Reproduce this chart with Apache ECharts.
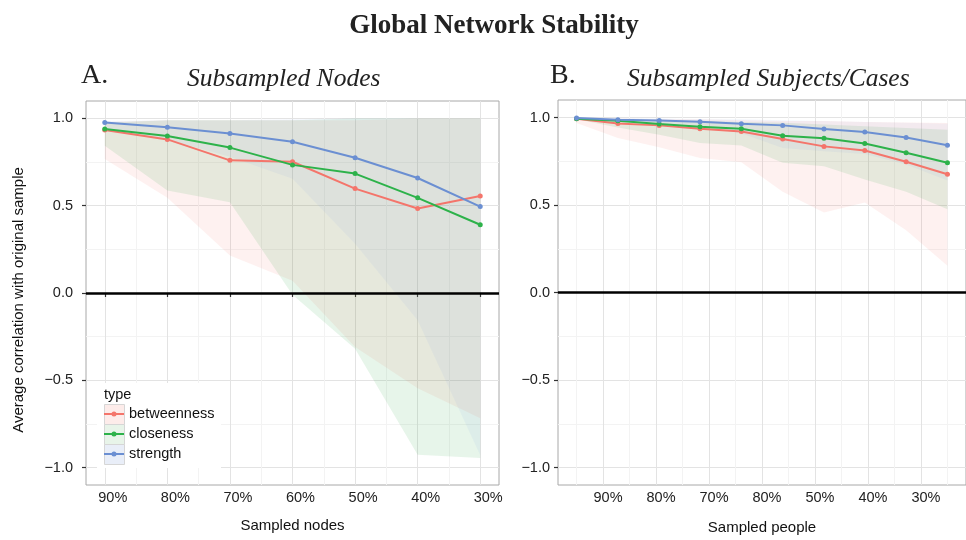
<!DOCTYPE html>
<html>
<head>
<meta charset="utf-8">
<script src="https://cdn.jsdelivr.net/npm/echarts@6/dist/echarts.min.js"></script>
<style>
  html, body { margin: 0; padding: 0; background: #fff; }
  #chart { width: 966px; height: 540px; }
</style>
</head>
<body>
<div id="chart"></div>
<script>
// 数据
const types = ['betweenness', 'closeness', 'strength'];

// A. Subsampled Nodes
const nodesX = [90, 80, 70, 60, 50, 40, 30];
const nodesBetweenness = [0.934, 0.880, 0.760, 0.752, 0.598, 0.484, 0.556];
const nodesCloseness = [0.939, 0.899, 0.833, 0.734, 0.684, 0.545, 0.391];
const nodesStrength = [0.977, 0.949, 0.914, 0.867, 0.775, 0.659, 0.495];
const nodesBetweennessLow = [0.768, 0.545, 0.215, 0.070, -0.310, -0.546, -0.718];
const nodesBetweennessHigh = [0.980, 0.990, 0.990, 0.990, 0.990, 1.000, 1.000];
const nodesClosenessLow = [0.844, 0.587, 0.520, -0.010, -0.320, -0.927, -0.946];
const nodesClosenessHigh = [0.975, 0.990, 0.990, 0.990, 1.000, 1.000, 1.000];
const nodesStrengthLow = [0.930, 0.880, 0.780, 0.654, 0.282, -0.156, -0.930];
const nodesStrengthHigh = [0.985, 0.990, 0.990, 0.995, 1.000, 1.000, 1.000];

// B. Subsampled Subjects/Cases
const peopleX = [95, 87.2, 79.4, 71.7, 63.9, 56.1, 48.3, 40.6, 32.8, 25];
const peopleBetweenness = [0.993, 0.966, 0.955, 0.936, 0.920, 0.877, 0.835, 0.811, 0.747, 0.676];
const peopleCloseness = [0.993, 0.981, 0.963, 0.947, 0.936, 0.896, 0.881, 0.851, 0.799, 0.741];
const peopleStrength = [0.997, 0.987, 0.983, 0.976, 0.964, 0.955, 0.934, 0.917, 0.886, 0.841];
const peopleBetweennessLow = [0.968, 0.883, 0.830, 0.769, 0.744, 0.576, 0.457, 0.514, 0.356, 0.153];
const peopleBetweennessHigh = [0.998, 0.995, 0.990, 0.990, 0.985, 0.980, 0.980, 0.975, 0.972, 0.968];
const peopleClosenessLow = [0.990, 0.943, 0.902, 0.855, 0.840, 0.741, 0.722, 0.646, 0.576, 0.476];
const peopleClosenessHigh = [0.998, 0.990, 0.985, 0.980, 0.975, 0.970, 0.960, 0.950, 0.940, 0.930];
const peopleStrengthLow = [0.990, 0.975, 0.958, 0.950, 0.910, 0.826, 0.807, 0.792, 0.731, 0.640];
const peopleStrengthHigh = [0.999, 0.997, 0.995, 0.990, 0.990, 0.985, 0.980, 0.975, 0.970, 0.965];

// 刻度
const nodesTicks = [90, 80, 70, 60, 50, 40, 30];
const nodesTickLabels = ['90%', '80%', '70%', '60%', '50%', '40%', '30%'];
const nodesMinor = [85, 75, 65, 55, 45, 35];
const peopleTicks = [90, 80, 70, 60, 50, 40, 30];
const peopleTickLabels = ['90%', '80%', '70%', '80%', '50%', '40%', '30%'];
const peopleMinor = [95, 85, 75, 65, 55, 45, 35, 25];
const yTicks = [-1, -0.5, 0, 0.5, 1];
const yMinor = [-0.75, -0.25, 0.25, 0.75];

// 颜色
const lineColors = ['#f4756b', '#2db24a', '#6b8fd2'];
const bandColors = ['rgba(248,118,109,0.1)', 'rgba(40,160,60,0.11)', 'rgba(110,150,230,0.08)'];
const keyFills = ['#fdecea', '#e8f4e9', '#e9eef8'];

const sans = 'Liberation Sans, Arial, sans-serif';
const serif = 'Liberation Serif, Times New Roman, serif';
const keyIcon = 'path://M0,9L20,9L20,11L0,11Z M12.5,10A2.5,2.5,0,1,1,7.5,10A2.5,2.5,0,1,1,12.5,10Z';

function xAxisPair(gridIndex, min, max, ticks, labels, minor, name, nameGap, shift, showTick) {
  return [{
    type: 'value', gridIndex, min, max, inverse: true,
    axisLine: { show: false },
    axisTick: { show: showTick, length: 4, lineStyle: { color: '#333', width: 1.2 }, customValues: ticks },
    axisLabel: {
      customValues: ticks,
      formatter: v => labels[ticks.indexOf(v)],
      fontFamily: sans, fontSize: 14.5, color: '#222', margin: 5, lineHeight: 15,
      padding: [0, 0, 0, shift * 2]
    },
    splitLine: { show: true, customValues: ticks, lineStyle: { color: '#e3e3e3', width: 1 } },
    name, nameLocation: 'middle', nameGap,
    nameTextStyle: { fontFamily: sans, fontSize: 15, color: '#111', lineHeight: 15 }
  }, {
    type: 'value', gridIndex, min, max, inverse: true,
    axisLine: { show: false },
    axisTick: { show: false, customValues: minor },
    axisLabel: { show: false, customValues: minor },
    splitLine: { show: true, customValues: minor, lineStyle: { color: '#f3f3f3', width: 1 } }
  }];
}

function yAxisPair(gridIndex, margin, name, nameGap) {
  return [{
    type: 'value', gridIndex, min: -1.1, max: 1.1,
    axisLine: { show: false },
    axisTick: { show: true, length: 4, lineStyle: { color: '#333', width: 1.2 }, customValues: yTicks },
    axisLabel: {
      customValues: yTicks,
      formatter: v => v.toFixed(1).replace('-', '\u2212'),
      fontFamily: sans, fontSize: 14.5, color: '#222', margin
    },
    splitLine: { show: true, customValues: yTicks, lineStyle: { color: '#e3e3e3', width: 1 } },
    name, nameLocation: 'middle', nameGap, nameRotate: 90,
    nameTextStyle: { fontFamily: sans, fontSize: 15, color: '#111', lineHeight: 15, padding: [0, 14, 0, 0] }
  }, {
    type: 'value', gridIndex, min: -1.1, max: 1.1,
    axisLine: { show: false },
    axisTick: { show: false, customValues: yMinor },
    axisLabel: { show: false, customValues: yMinor },
    splitLine: { show: true, customValues: yMinor, lineStyle: { color: '#f3f3f3', width: 1 } }
  }];
}

// 置信带：用 custom 系列画一个多边形
function bandSeries(p, i, x, low, high) {
  return {
    type: 'custom', xAxisIndex: p * 2, yAxisIndex: p * 2, silent: true, z: 1, clip: true,
    data: x.map((v, j) => [v, low[j], high[j]]),
    renderItem: (params, api) => {
      if (params.dataIndex !== 0) return null;
      const upper = x.map((v, j) => api.coord([v, high[j]]));
      const lower = x.map((v, j) => api.coord([v, low[j]])).reverse();
      return { type: 'polygon', shape: { points: upper.concat(lower) }, style: { fill: bandColors[i] } };
    }
  };
}

function panelSeries(p, x, lines, lows, highs) {
  const out = [];
  const ax = p * 2;
  types.forEach((t, i) => out.push(bandSeries(p, i, x, lows[i], highs[i])));
  types.forEach((t, i) => {
    out.push({
      type: 'line', name: t, xAxisIndex: ax, yAxisIndex: ax,
      data: x.map((v, j) => [v, lines[i][j]]),
      symbol: 'circle', symbolSize: 5, showSymbol: true,
      lineStyle: { width: 2, color: lineColors[i] },
      itemStyle: { color: lineColors[i] }, z: 6,
      markLine: i === 0 ? {
        silent: true, symbol: ['none', 'none'], label: { show: false },
        lineStyle: { color: '#000', width: 2.5, type: 'solid' },
        data: [{ yAxis: 0 }]
      } : undefined
    });
  });
  return out;
}

const chart = echarts.init(document.getElementById('chart'));

const option = {
  animation: false,
  backgroundColor: '#fff',
  title: [
    { text: 'Global Network Stability', left: 494, textAlign: 'center', top: 13, padding: 0,
      textStyle: { fontFamily: serif, fontSize: 27, fontWeight: 'bold', color: '#222', lineHeight: 27 } },
    { text: 'A.', left: 81, top: 62, padding: 0,
      textStyle: { fontFamily: serif, fontSize: 28, fontWeight: 'normal', color: '#222', lineHeight: 28 } },
    { text: 'Subsampled Nodes', left: 187, top: 67, padding: 0,
      textStyle: { fontFamily: serif, fontSize: 25.5, fontStyle: 'italic', fontWeight: 'normal', color: '#222', lineHeight: 25.5 } },
    { text: 'B.', left: 550, top: 62, padding: 0,
      textStyle: { fontFamily: serif, fontSize: 28, fontWeight: 'normal', color: '#222', lineHeight: 28 } },
    { text: 'Subsampled Subjects/Cases', left: 627, top: 67, padding: 0,
      textStyle: { fontFamily: serif, fontSize: 25.5, fontStyle: 'italic', fontWeight: 'normal', color: '#222', lineHeight: 25.5 } },
    { text: 'type', left: 104, top: 388, padding: 0,
      textStyle: { fontFamily: sans, fontSize: 14.5, fontWeight: 'normal', color: '#111', lineHeight: 14.5 } }
  ],
  grid: [
    { left: 86, top: 101, width: 413, height: 384, show: true, backgroundColor: '#fff', borderColor: '#a8a8a8', borderWidth: 1 },
    { left: 558, top: 100, width: 414, height: 388, show: true, backgroundColor: '#fff', borderColor: '#a8a8a8', borderWidth: 1 }
  ],
  xAxis: [
    ...xAxisPair(0, 27, 93, nodesTicks, nodesTickLabels, nodesMinor, 'Sampled nodes', 33, 8, true),
    ...xAxisPair(1, 21.5, 98.5, peopleTicks, peopleTickLabels, peopleMinor, 'Sampled people', 35, 5, false)
  ],
  yAxis: [
    ...yAxisPair(0, 13, 'Average correlation with original sample', 60),
    ...yAxisPair(1, 8, '', 20)
  ],
  legend: {
    data: types.map(t => ({ name: t, icon: keyIcon })),
    orient: 'vertical', left: 104, top: 404, padding: 0,
    itemWidth: 20, itemHeight: 20, itemGap: 0, selectedMode: false, z: 10,
    textStyle: { fontFamily: sans, fontSize: 14.5, color: '#111', lineHeight: 20 }
  },
  graphic: [
    { type: 'rect', left: 97, top: 383, shape: { width: 124, height: 85 }, style: { fill: '#fff' }, z: 1, silent: true },
    ...types.map((t, i) => ({
      type: 'rect', left: 104, top: 404 + 20 * i, shape: { width: 20, height: 20 },
      style: { fill: keyFills[i], stroke: '#d6d6d6', lineWidth: 1 }, z: 2, silent: true
    }))
  ],
  series: [
    ...panelSeries(0, nodesX,
      [nodesBetweenness, nodesCloseness, nodesStrength],
      [nodesBetweennessLow, nodesClosenessLow, nodesStrengthLow],
      [nodesBetweennessHigh, nodesClosenessHigh, nodesStrengthHigh]),
    ...panelSeries(1, peopleX,
      [peopleBetweenness, peopleCloseness, peopleStrength],
      [peopleBetweennessLow, peopleClosenessLow, peopleStrengthLow],
      [peopleBetweennessHigh, peopleClosenessHigh, peopleStrengthHigh])
  ]
};

chart.setOption(option);
</script>
</body>
</html>
